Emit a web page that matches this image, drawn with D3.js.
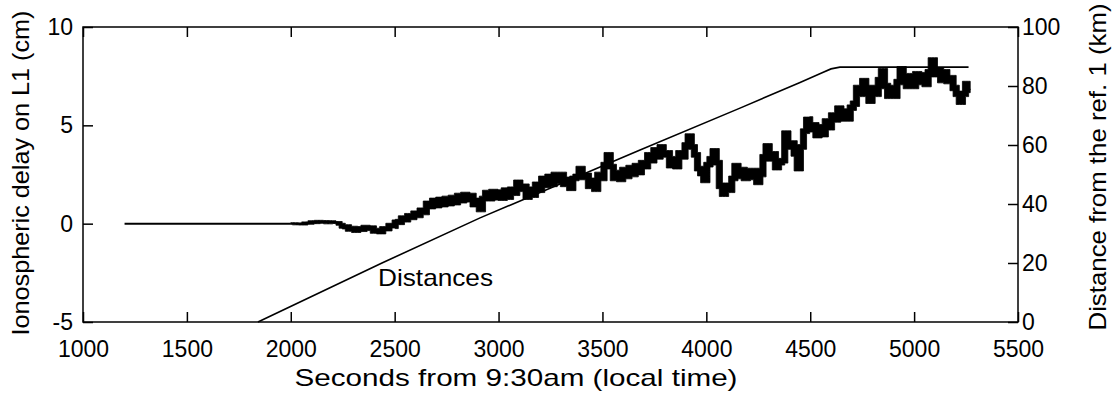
<!DOCTYPE html>
<html>
<head>
<meta charset="utf-8">
<script src="https://cdn.jsdelivr.net/npm/d3@7"></script>
<style>
  html, body { margin: 0; padding: 0; background: #fff; }
  svg { display: block; }
  text { font-family: "Liberation Sans", Arial, sans-serif; fill: #000; }
</style>
</head>
<body>
<svg id="chart" width="1114" height="394"></svg>
<script>
// ---- tick labels / domains ----
const xTicks = [1000, 1500, 2000, 2500, 3000, 3500, 4000, 4500, 5000, 5500];
const yLeftTicks = [-5, 0, 5, 10];
const yRightTicks = [0, 20, 40, 60, 80, 100];
const xLabel = "Seconds from 9:30am (local time)";
const yLeftLabel = "Ionospheric delay on L1 (cm)";
const yRightLabel = "Distance from the ref. 1 (km)";
const annotation = "Distances";

// ---- ionospheric delay (cm): flat start, then samples every 15 s from 2000 s ----
const ionoFlatTimes = [1200, 2000];
const ionoFlatValues = [0, 0];
const ionoStart = 2000;
const ionoStep = 15;
const ionoValues = [
  0.00, 0.02, -0.03, 0.01, -0.04, 0.06, 0.00, 0.12, 0.03, 0.14,
  0.05, 0.13, 0.02, 0.12, 0.04, 0.08, -0.05, -0.20, -0.12, -0.32,
  -0.20, -0.38, -0.22, -0.33, -0.15, -0.28, -0.18, -0.42, -0.30, -0.45,
  -0.22, -0.30, -0.05, -0.15, 0.12, 0.05, 0.30, 0.18, 0.42, 0.30,
  0.55, 0.40, 0.70, 0.55, 1.05, 0.85, 1.20, 0.90, 1.25, 0.95,
  1.30, 1.00, 1.35, 1.05, 1.45, 1.15, 1.50, 1.20, 1.45, 0.95,
  1.20, 0.70, 1.30, 1.60, 1.25, 1.65, 1.30, 1.60, 1.30, 1.70,
  1.35, 1.75, 1.55, 2.10, 1.75, 1.90, 1.35, 1.75, 1.45, 2.00,
  1.70, 2.30, 1.95, 2.40, 2.00, 2.50, 2.15, 2.50, 2.00, 2.25,
  1.80, 2.30, 2.40, 2.80, 2.35, 2.45, 1.90, 2.20, 1.75, 2.50,
  2.30, 3.00, 3.50, 2.90, 2.30, 2.60, 2.25, 2.75, 2.40, 2.85,
  2.50, 2.95, 2.60, 3.10, 2.90, 3.50, 3.20, 3.75, 3.40, 3.90,
  3.50, 3.60, 2.95, 3.30, 2.90, 3.60, 3.40, 4.00, 4.45, 3.90,
  3.50, 2.80, 2.55, 2.20, 3.00, 3.30, 3.70, 3.10, 1.90, 1.50,
  1.95, 1.70, 2.30, 2.95, 2.40, 2.75, 2.30, 2.70, 2.35, 2.70,
  2.10, 2.50, 3.40, 3.95, 3.30, 3.55, 2.85, 3.10, 3.20, 4.60,
  3.90, 4.10, 3.55, 2.80, 3.90, 4.70, 5.30, 4.80, 5.00, 4.50,
  4.90, 4.55, 5.20, 4.90, 5.50, 5.30, 5.85, 5.35, 5.70, 5.35,
  5.90, 6.10, 6.90, 6.60, 7.25, 6.70, 6.25, 6.90, 6.60, 7.30,
  7.75, 7.00, 6.50, 6.90, 6.50, 7.20, 7.85, 7.40, 7.00, 7.50,
  7.00, 7.60, 7.20, 7.55, 7.10, 7.70, 8.30, 7.60, 7.80, 7.30,
  7.70, 7.25, 7.40, 6.90, 6.60, 6.20, 6.60, 7.10, 6.80
];
// extra half-thickness (cm) of the 1 Hz noise band, by time segment
const noiseSegStart = [2000, 2250, 2500, 3000, 4500];
const noiseHalfWidth = [0.03, 0.07, 0.10, 0.12, 0.14];

// ---- distance from reference 1 (km) ----
const distTimes = [1842, 2439, 2911, 3681, 4162, 4451, 4560, 4600, 4643, 5262];
const distValues = [0, 20, 35.3, 58.3, 72.5, 81.2, 84.6, 85.8, 86.4, 86.4];
const annotationAt = [2420, 12.3]; // (seconds, km) anchor of "Distances"

// ---- drawing ----
const svg = d3.select("#chart");
const x = d3.scaleLinear().domain([1000, 5500]).range([83, 1018]);
const yL = d3.scaleLinear().domain([-5, 10]).range([322, 27]);
const yR = d3.scaleLinear().domain([0, 100]).range([322, 27]);
const fmt = d => String(d); // plain hyphen for negatives, as in the original

const flatData = ionoFlatTimes.map((t, i) => [t, ionoFlatValues[i]]);
// each 15 s bin spans the range of its own and neighbouring samples (min/max envelope)
const ionoData = ionoValues.map((v, i) => {
  const t = ionoStart + i * ionoStep;
  const seg = Math.max(0, d3.bisectRight(noiseSegStart, t) - 1);
  const s = noiseHalfWidth[seg];
  const nb = ionoValues.slice(Math.max(0, i - 1), i + 2);
  return { t, v, lo: d3.min(nb) - s, hi: d3.max(nb) + s };
});
const distData = distTimes.map((t, i) => [t, distValues[i]]);

const g = svg.append("g");

// distance line
g.append("path")
  .datum(distData)
  .attr("fill", "none").attr("stroke", "#000").attr("stroke-width", 1.6)
  .attr("d", d3.line().x(d => x(d[0])).y(d => yR(d[1])));

// ionospheric delay
g.append("path")
  .datum(flatData)
  .attr("fill", "none").attr("stroke", "#000").attr("stroke-width", 2)
  .attr("d", d3.line().x(d => x(d[0])).y(d => yL(d[1])));
g.append("path")
  .datum(ionoData)
  .attr("fill", "#000").attr("stroke", "#000").attr("stroke-width", 0.8)
  .attr("d", d3.area().curve(d3.curveStep).x(d => x(d.t)).y0(d => yL(d.lo)).y1(d => yL(d.hi)));
g.append("path")
  .datum(ionoData)
  .attr("fill", "none").attr("stroke", "#000").attr("stroke-width", 1.2)
  .attr("d", d3.line().x(d => x(d.t)).y(d => yL(d.v)));

// frame
g.append("rect")
  .attr("x", x(1000)).attr("y", yL(10))
  .attr("width", x(5500) - x(1000)).attr("height", yL(-5) - yL(10))
  .attr("fill", "none").attr("stroke", "#000").attr("stroke-width", 1.5);

function styleAxis(sel) {
  sel.select(".domain").remove();
  sel.selectAll(".tick line").attr("stroke", "#000").attr("stroke-width", 1.5);
  sel.selectAll(".tick text").attr("font-size", 23).attr("fill", "#000")
    .style("font-family", "'Liberation Sans', Arial, sans-serif");
}

// bottom axis
const axBottom = g.append("g").attr("transform", `translate(0,${yL(-5)})`)
  .call(d3.axisBottom(x).tickValues(xTicks).tickSize(-10).tickSizeOuter(0).tickPadding(19).tickFormat(fmt));
styleAxis(axBottom);

// top axis (ticks only)
const axTop = g.append("g").attr("transform", `translate(0,${yL(10)})`)
  .call(d3.axisTop(x).tickValues(xTicks).tickSize(-10).tickSizeOuter(0).tickFormat(""));
styleAxis(axTop);

// left axis
const axLeft = g.append("g").attr("transform", `translate(${x(1000)},0)`)
  .call(d3.axisLeft(yL).tickValues(yLeftTicks).tickSize(-10).tickSizeOuter(0).tickPadding(10).tickFormat(fmt));
styleAxis(axLeft);

// right axis
const axRight = g.append("g").attr("transform", `translate(${x(5500)},0)`)
  .call(d3.axisRight(yR).tickValues(yRightTicks).tickSize(-10).tickSizeOuter(0).tickPadding(4).tickFormat(fmt));
styleAxis(axRight);

// axis titles
g.append("text")
  .attr("x", 516).attr("y", 386)
  .attr("text-anchor", "middle").attr("font-size", 24)
  .attr("textLength", 443).attr("lengthAdjust", "spacingAndGlyphs")
  .text(xLabel);

g.append("text")
  .attr("transform", "translate(29,173) rotate(-90)")
  .attr("text-anchor", "middle").attr("font-size", 24)
  .attr("textLength", 325).attr("lengthAdjust", "spacingAndGlyphs")
  .text(yLeftLabel);

g.append("text")
  .attr("transform", "translate(1106,167) rotate(-90)")
  .attr("text-anchor", "middle").attr("font-size", 24)
  .attr("textLength", 327).attr("lengthAdjust", "spacingAndGlyphs")
  .text(yRightLabel);

// annotation
g.append("text")
  .attr("x", x(annotationAt[0])).attr("y", yR(annotationAt[1]))
  .attr("font-size", 24)
  .attr("textLength", 115).attr("lengthAdjust", "spacingAndGlyphs")
  .text(annotation);
</script>
</body>
</html>
